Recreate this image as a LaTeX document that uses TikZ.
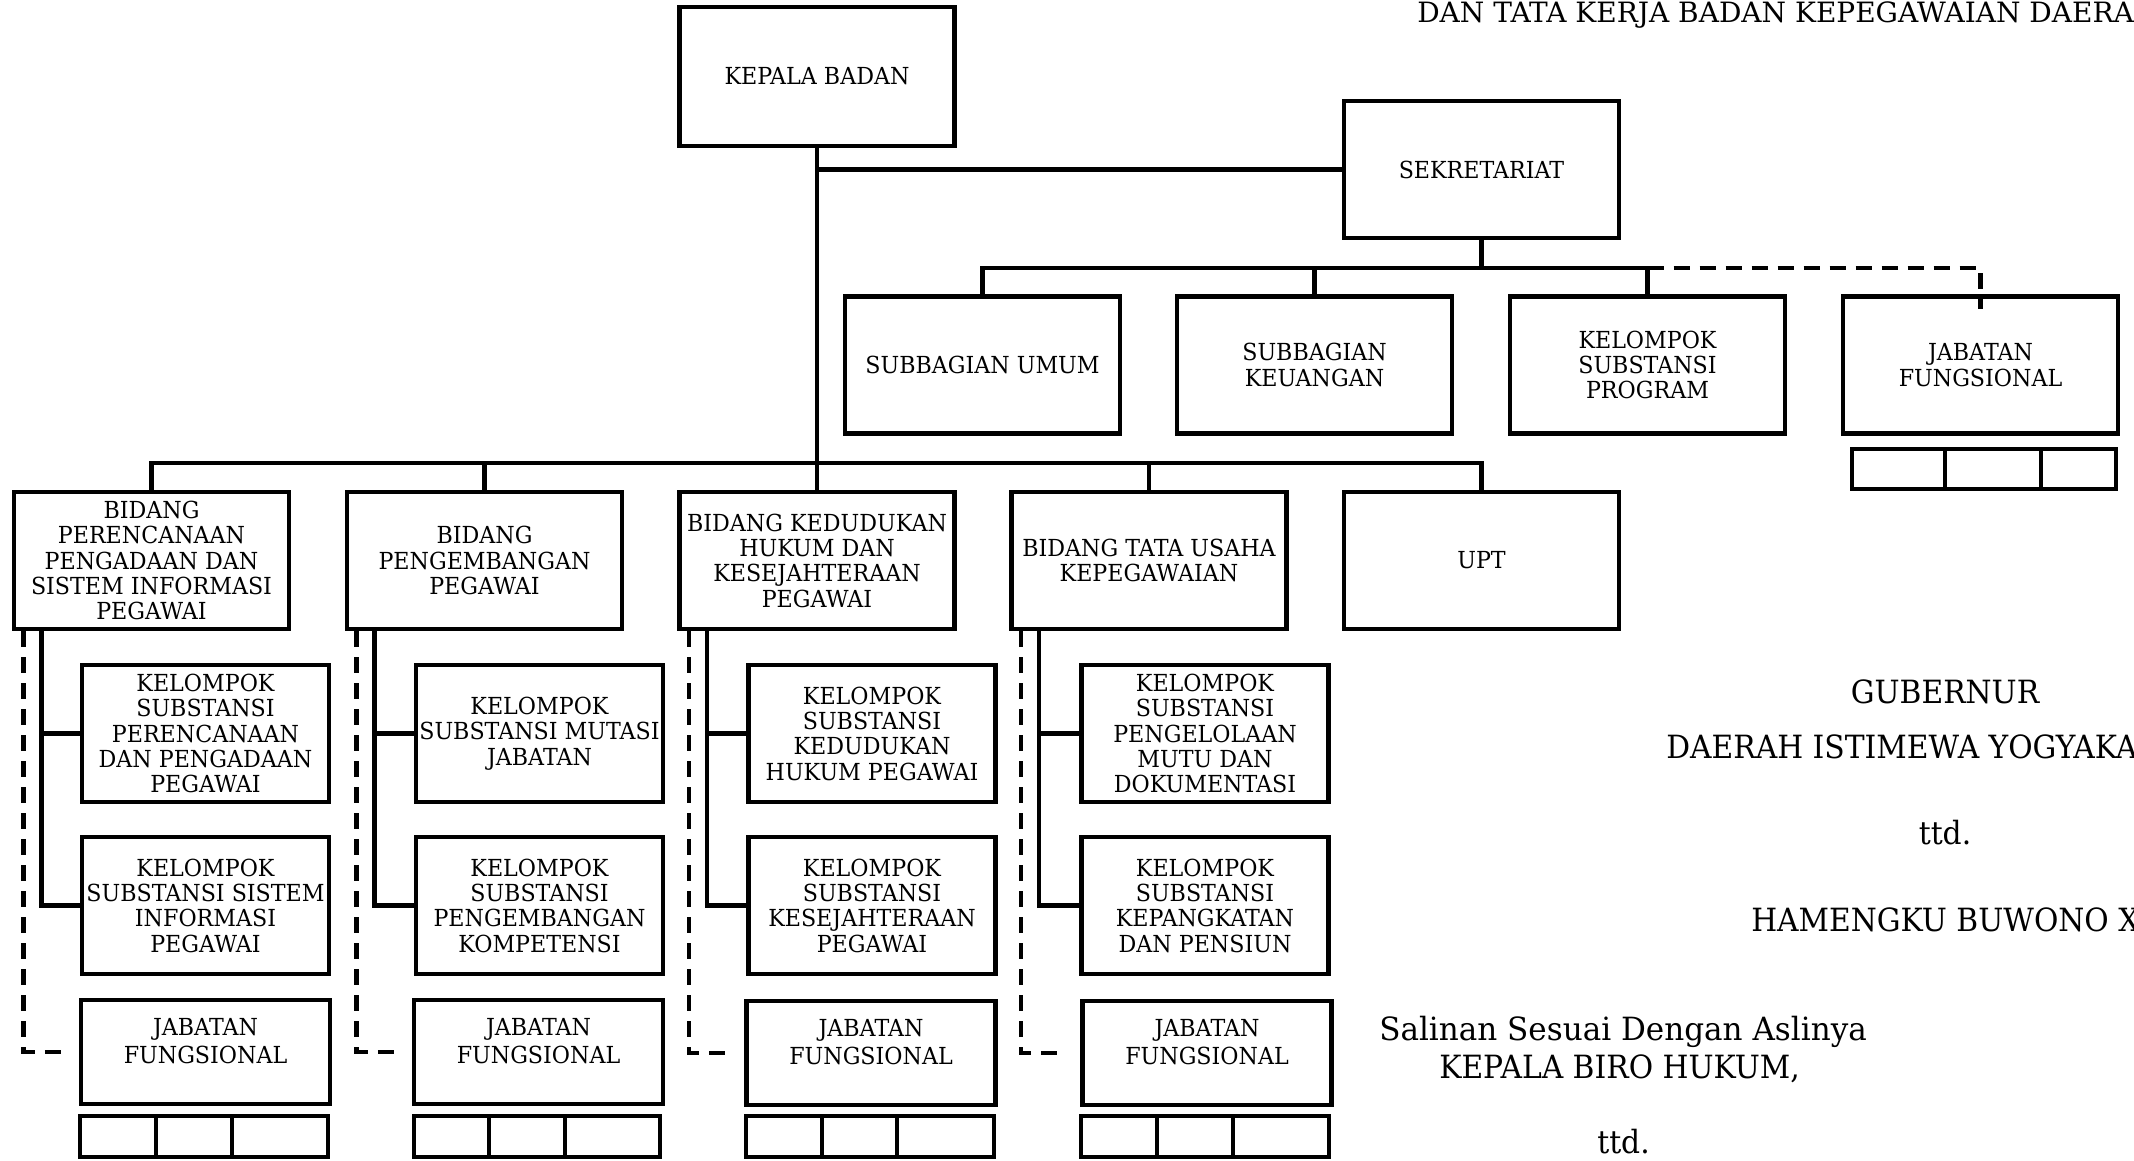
\documentclass[tikz,border=0pt]{standalone}
\usepackage{fontspec}
\setmainfont{DejaVu Serif}
\newfontfamily\boxfont[FakeStretch=0.945]{DejaVu Serif}
\newfontfamily\signfont[FakeStretch=0.93]{DejaVu Serif}
\newfontfamily\salinfont[FakeStretch=0.97]{DejaVu Serif}
\usetikzlibrary{positioning}

\tikzset{every picture/.style={line width=3.4pt}}
\tikzset{
  unit/.style={draw, line width=3.4pt, rectangle, align=center, inner sep=0pt, font=\boxfont\fontsize{17.6}{19}\selectfont},
  bigbox/.style={unit, minimum width=206.25pt, minimum height=102.75pt},
  kelbox/.style={unit, minimum width=185.25pt, minimum height=102.75pt},
  jabbox/.style={unit, minimum width=186.75pt, minimum height=78pt},
  jabtext/.style={align=center, inner sep=0pt, font=\boxfont\fontsize{17.6}{21}\selectfont},
  link/.style={line width=3.4pt},
  dashlink/.style={line width=3.4pt, dash pattern={on 12pt off 7.5pt}},
  sign/.style={inner sep=0pt, font=\signfont\fontsize{24}{28}\selectfont},
}

\begin{document}
\begin{tikzpicture}[x=0.75pt,y=0.75pt,yscale=-1,xscale=1]
\useasboundingbox (0,0) rectangle (2134,1160);

%Shape: Rectangle [kepala, sekretariat]
\draw (817,76.5) node [bigbox, minimum height=104.25pt] (kb) {KEPALA BADAN};
\draw (1481.5,169.5) node [bigbox] (sek) {SEKRETARIAT};

%Shape: Rectangle [sekretariat row]
\draw (982.5,365) node [bigbox] (sb1) {SUBBAGIAN UMUM};
\draw (1314.5,365) node [bigbox] (sb2) {SUBBAGIAN\\KEUANGAN};
\draw (1647.5,365) node [bigbox] (sb3) {KELOMPOK\\SUBSTANSI\\PROGRAM};
\draw (1980.5,365) node [bigbox] (jf0) {JABATAN\\FUNGSIONAL};

%Shape: Rectangle [bidang row]
\draw (151.5,560.5) node [bigbox] (bd1) {BIDANG\\PERENCANAAN\\PENGADAAN DAN\\SISTEM INFORMASI\\PEGAWAI};
\draw (484.5,560.5) node [bigbox] (bd2) {BIDANG\\PENGEMBANGAN\\PEGAWAI};
\draw (817,560.5) node [bigbox] (bd3) {BIDANG KEDUDUKAN\\HUKUM DAN\\KESEJAHTERAAN\\PEGAWAI};
\draw (1149,560.5) node [bigbox] (bd4) {BIDANG TATA USAHA\\KEPEGAWAIAN};
\draw (1481.5,560.5) node [bigbox] (upt) {UPT};

%Shape: Rectangle [kelompok substansi]
\draw (205.5,733.5) node [kelbox] (ks11) {KELOMPOK\\SUBSTANSI\\PERENCANAAN\\DAN PENGADAAN\\PEGAWAI};
\draw (205.5,905.5) node [kelbox] (ks12) {KELOMPOK\\SUBSTANSI SISTEM\\INFORMASI\\PEGAWAI};
\draw (539.5,733.5) node [kelbox] (ks21) {KELOMPOK\\SUBSTANSI MUTASI\\JABATAN};
\draw (539.5,905.5) node [kelbox] (ks22) {KELOMPOK\\SUBSTANSI\\PENGEMBANGAN\\KOMPETENSI};
\draw (872,733.5) node [kelbox] (ks31) {KELOMPOK\\SUBSTANSI\\KEDUDUKAN\\HUKUM PEGAWAI};
\draw (872,905.5) node [kelbox] (ks32) {KELOMPOK\\SUBSTANSI\\KESEJAHTERAAN\\PEGAWAI};
\draw (1205,733.5) node [kelbox] (ks41) {KELOMPOK\\SUBSTANSI\\PENGELOLAAN\\MUTU DAN\\DOKUMENTASI};
\draw (1205,905.5) node [kelbox] (ks42) {KELOMPOK\\SUBSTANSI\\KEPANGKATAN\\DAN PENSIUN};

%Shape: Rectangle [jabatan fungsional]
\draw (205.5,1052) node [jabbox] (jf1) {};
\draw (538.5,1052) node [jabbox] (jf2) {};
\draw (871,1053) node [jabbox] (jf3) {};
\draw (1207,1053) node [jabbox] (jf4) {};
\draw (205.5,1041) node [jabtext] (jt1) {JABATAN\\FUNGSIONAL};
\draw (538.5,1041) node [jabtext] (jt2) {JABATAN\\FUNGSIONAL};
\draw (871,1042) node [jabtext] (jt3) {JABATAN\\FUNGSIONAL};
\draw (1207,1042) node [jabtext] (jt4) {JABATAN\\FUNGSIONAL};

%Shape: Rectangle [empty cells]
\draw (1852,449) rectangle (2116,489); \draw (1945,449) -- (1945,489); \draw (2041,449) -- (2041,489);
\draw (80,1116) rectangle (328,1157); \draw (156,1116) -- (156,1157); \draw (232,1116) -- (232,1157);
\draw (414,1116) rectangle (660,1157); \draw (489,1116) -- (489,1157); \draw (565,1116) -- (565,1157);
\draw (746,1116) rectangle (994,1157); \draw (822,1116) -- (822,1157); \draw (897,1116) -- (897,1157);
\draw (1081,1116) rectangle (1329,1157); \draw (1157,1116) -- (1157,1157); \draw (1233,1116) -- (1233,1157);

%Straight Lines [trunk]
\coordinate (busS) at (0,268);
\coordinate (busB) at (0,463);
\draw [link] (kb.south) -- (bd3.north);
\draw [link] (kb.south |- sek.west) -- (sek.west);
\draw [link] (sek.south) -- (sek.south |- busS);
\draw [link] (sb1.north) |- (sb3.north |- busS) -- (sb3.north);
\draw [link] (sb2.north) -- (sb2.north |- busS);
\draw [dashlink] (sb3.north |- busS) -| ([yshift=11.25pt]jf0.north);
\draw [link] (bd1.north) |- (upt.north |- busB) -- (upt.north);
\draw [link] (bd2.north) -- (bd2.north |- busB);
\draw [link] (bd4.north) -- (bd4.north |- busB);

%Straight Lines [bidang to kelompok]
\draw [link] (ks11.west) -| ([xshift=-82.5pt]bd1.south);
\draw [link] (ks12.west) -| ([xshift=-82.5pt]bd1.south);
\draw [link] (ks21.west) -| ([xshift=-82.5pt]bd2.south);
\draw [link] (ks22.west) -| ([xshift=-82.5pt]bd2.south);
\draw [link] (ks31.west) -| ([xshift=-82.5pt]bd3.south);
\draw [link] (ks32.west) -| ([xshift=-82.5pt]bd3.south);
\draw [link] (ks41.west) -| ([xshift=-82.5pt]bd4.south);
\draw [link] (ks42.west) -| ([xshift=-82.5pt]bd4.south);

%Straight Lines [dashed to jabatan]
\draw [dashlink] ([xshift=-96pt]bd1.south) |- ([xshift=-11pt]jf1.west);
\draw [dashlink] ([xshift=-96pt]bd2.south) |- ([xshift=-11pt]jf2.west);
\draw [dashlink] ([xshift=-96pt]bd3.south) |- ([xshift=-11pt]jf3.west);
\draw [dashlink] ([xshift=-96pt]bd4.south) |- ([xshift=-11pt]jf4.west);

% Text Node
\draw (1415,22) node [inner sep=0pt, anchor=base west, font=\fontsize{21}{24}\selectfont] (title) {DAN TATA KERJA BADAN KEPEGAWAIAN DAERA};
% Text Node
\draw (1945,703) node [sign, anchor=base] (gub) {GUBERNUR};
% Text Node
\draw (1664,758) node [sign, anchor=base west] (diy) {DAERAH ISTIMEWA YOGYAKA};
% Text Node
\draw (1945,844) node [sign, anchor=base] (ttd1) {ttd.};
% Text Node
\draw (1749,931) node [sign, anchor=base west] (hb) {HAMENGKU BUWONO X};
% Text Node
\draw (1377,1040) node [sign, anchor=base west, font=\salinfont\fontsize{24}{28}\selectfont] (sal) {Salinan Sesuai Dengan Aslinya};
% Text Node
\draw (1437,1078) node [sign, anchor=base west] (kbh) {KEPALA BIRO HUKUM,};
% Text Node
\draw (1595,1153) node [sign, anchor=base west] (ttd2) {ttd.};

\end{tikzpicture}
\end{document}
